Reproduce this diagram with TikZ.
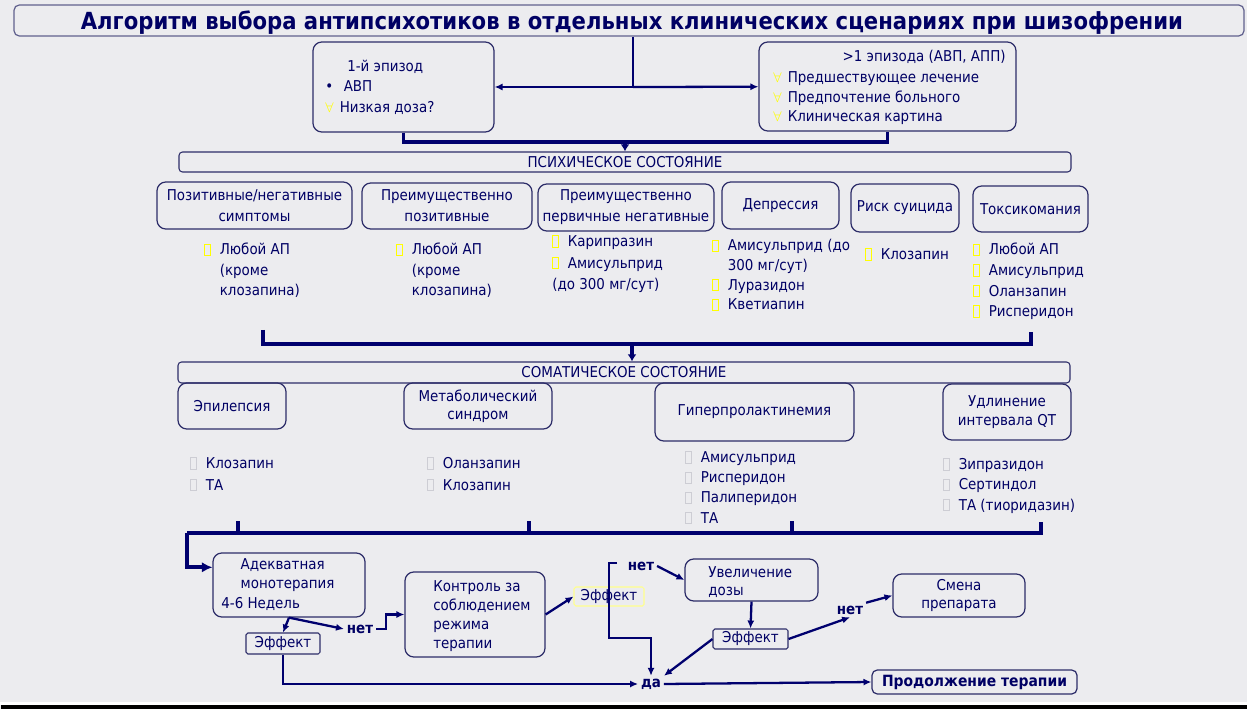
\documentclass[tikz,border=0pt]{standalone}
\usepackage{fontspec}
\setmainfont{DejaVu Sans Condensed}
\usetikzlibrary{arrows.meta}

\definecolor{navyText}{RGB}{0,0,100}
\definecolor{navyLine}{RGB}{0,0,110}
\definecolor{boxLine}{RGB}{45,45,105}
\definecolor{bgGray}{RGB}{236,236,239}
\definecolor{markGray}{RGB}{205,205,212}
\definecolor{markYellow}{RGB}{255,255,0}
\definecolor{effYellow}{RGB}{255,255,140}

\newcommand{\bodyFont}{\fontsize{8.5}{12}\selectfont}
\newcommand{\listFont}{\fontsize{8.5}{11.5}\selectfont}
\newcommand{\titleFont}{\fontsize{13.4}{15}\selectfont\bfseries}
% small marker boxes in front of the drug names
\newcommand{\mk}[1]{{\color{#1}\fboxsep=0pt\fboxrule=0.55pt\fbox{\rule{0pt}{5.8pt}\rule{2.4pt}{0pt}}}\hspace{5.3pt}}
\newcommand{\ind}{\hphantom{\mk{black}}}
\newcommand{\ymk}{\makebox[8.2pt][l]{\textcolor{markYellow}{$\forall$}}}

\tikzset{
    sz/.style 2 args={minimum width=#1*0.02cm, minimum height=#2*0.02cm},
    roundBox/.style={draw=boxLine, line width=0.7pt, rounded corners=5pt, inner sep=0pt, text=navyText, align=center, font=\bodyFont},
    barBox/.style={roundBox, rounded corners=2pt, line width=0.6pt},
    titleBox/.style={draw=boxLine!75, line width=0.7pt, rounded corners=3pt, inner sep=0pt},
    titleText/.style={text=navyText, inner sep=0pt, font=\titleFont},
    effBox/.style={draw=boxLine, line width=0.6pt, rounded corners=1pt, inner sep=0pt, text=navyText, font=\bodyFont},
    listText/.style={anchor=north west, inner sep=0pt, align=left, text=navyText, font=\listFont},
    flowLabel/.style={inner sep=1.5pt, text=navyText, font=\bodyFont\bfseries},
    thickLine/.style={draw=navyLine, line width=2.2pt},
    flowArrow/.style={draw=navyLine, line width=1.3pt, -{Latex[length=4.5pt,width=4pt]}},
    bigArrow/.style={thickLine, -{Latex[length=4pt,width=5pt]}}
}

\begin{document}
\begin{tikzpicture}[x=0.02cm, y=-0.02cm]
    % --- Background ---
    \fill[bgGray] (0,0) rectangle (1247,709);
    \fill[white] (0,702) rectangle (1247,705);
    \fill[black] (1,705) rectangle (1247,709);
    \useasboundingbox (0,0) rectangle (1247,709);

    % --- Title ---
    \node[titleBox, sz={1230}{31}] (title) at (629,20.5) {};
    \node[titleText] (titleText) at (632,23) {Алгоритм выбора антипсихотиков в отдельных клинических сценариях при шизофрении};

    % --- Episodes ---
    \node[roundBox, sz={181}{90}] (firstEp) at (403.5,87) {};
    \node[listText] (firstEpText) at (325,60) {\hspace{12.5pt}1-й эпизод\\ \makebox[10.5pt][l]{•}АВП\\ \ymk Низкая доза?};
    \node[roundBox, sz={257}{89}] (laterEp) at (887.5,86.5) {};
    \node[text=navyText, font=\bodyFont, inner sep=0pt, anchor=east] (laterEpHead) at (1006,57) {>1 эпизода (АВП, АПП)};
    \node[listText, font=\fontsize{8.5}{11.3}\selectfont] (laterEpText) at (773,71) {\ymk Предшествующее лечение\\ \ymk Предпочтение больного\\ \ymk Клиническая картина};

    % --- Mental state ---
    \node[barBox, sz={892}{20}] (psyBar) at (625,162) {ПСИХИЧЕСКОЕ СОСТОЯНИЕ};
    \node[roundBox, sz={195}{47}] (psyMixed) at (254.5,205.5) {Позитивные/негативные\\симптомы};
    \node[roundBox, sz={170}{46}] (psyPos) at (447,206) {Преимущественно\\позитивные};
    \node[roundBox, sz={176}{47}] (psyNeg) at (626,207.5) {Преимущественно\\первичные негативные};
    \node[roundBox, sz={117}{47}] (psyDep) at (780.5,205.5) {Депрессия};
    \node[roundBox, sz={108}{48}] (psySui) at (905,208) {Риск суицида};
    \node[roundBox, sz={115}{46}] (psyTox) at (1030.5,209) {Токсикомания};

    \node[listText] (psyMixedList) at (204,243) {\mk{markYellow}Любой АП\\ \ind(кроме\\ \ind клозапина)};
    \node[listText] (psyPosList) at (396,243) {\mk{markYellow}Любой АП\\ \ind(кроме\\ \ind клозапина)};
    \node[listText, font=\fontsize{8.5}{12.3}\selectfont] (psyNegList) at (552,235) {\mk{markYellow}Карипразин\\ \mk{markYellow}Амисульприд\\ (до 300 мг/сут)};
    \node[listText, font=\fontsize{8.5}{11.2}\selectfont] (psyDepList) at (712,239) {\mk{markYellow}Амисульприд (до\\ \ind 300 мг/сут)\\ \mk{markYellow}Луразидон\\ \mk{markYellow}Кветиапин};
    \node[listText] (psySuiList) at (865,248) {\mk{markYellow}Клозапин};
    \node[listText, font=\fontsize{8.5}{11.7}\selectfont] (psyToxList) at (973,243) {\mk{markYellow}Любой АП\\ \mk{markYellow}Амисульприд\\ \mk{markYellow}Оланзапин\\ \mk{markYellow}Рисперидон};

    % --- Somatic state ---
    \node[barBox, sz={892}{21}] (somBar) at (624,372.5) {СОМАТИЧЕСКОЕ СОСТОЯНИЕ};
    \node[roundBox, sz={108}{46}] (somEpi) at (232,406) {Эпилепсия};
    \node[roundBox, sz={148}{46}, font=\fontsize{8.5}{10.3}\selectfont] (somMet) at (478,406) {Метаболический\\синдром};
    \node[roundBox, sz={199}{58}] (somHyp) at (754.5,412) {Гиперпролактинемия};
    \node[roundBox, sz={128}{56}, font=\fontsize{8.5}{10.8}\selectfont] (somQT) at (1007,412) {Удлинение\\интервала QT};

    \node[listText, font=\fontsize{8.5}{12.4}\selectfont] (somEpiList) at (190,457) {\mk{markGray}Клозапин\\ \mk{markGray}ТА};
    \node[listText, font=\fontsize{8.5}{12.4}\selectfont] (somMetList) at (427,457) {\mk{markGray}Оланзапин\\ \mk{markGray}Клозапин};
    \node[listText] (somHypList) at (685,451) {\mk{markGray}Амисульприд\\ \mk{markGray}Рисперидон\\ \mk{markGray}Палиперидон\\ \mk{markGray}ТА};
    \node[listText, font=\fontsize{8.5}{11.6}\selectfont] (somQTList) at (943,458) {\mk{markGray}Зипразидон\\ \mk{markGray}Сертиндол\\ \mk{markGray}ТА (тиоридазин)};

    % --- Therapy flow ---
    \node[roundBox, sz={152}{64}] (mono) at (289,585) {};
    \node[listText, font=\fontsize{8.5}{11.2}\selectfont] (monoText) at (221,558) {\hspace{11pt}Адекватная\\ \hspace{11pt}монотерапия\\ 4-6 Недель};
    \node[effBox, sz={74}{21}] (effA) at (283,643.5) {Эффект};
    \node[flowLabel] (noA) at (360,629) {нет};
    \node[roundBox, sz={140}{85}] (ctrl) at (475,614.5) {};
    \node[listText, font=\fontsize{8.5}{10.8}\selectfont] (ctrlText) at (433,580) {Контроль за\\ соблюдением\\ режима\\ терапии};
    \node[effBox, draw=effYellow, sz={70}{19}] (effB) at (609,596.5) {Эффект};
    \node[flowLabel] (noB) at (641,566) {нет};
    \node[roundBox, sz={133}{42}] (dose) at (751.5,580) {};
    \node[listText, font=\fontsize{8.5}{10.2}\selectfont] (doseText) at (708,566) {Увеличение\\ дозы};
    \node[effBox, sz={75}{20}] (effC) at (750.5,639) {Эффект};
    \node[flowLabel] (noC) at (850,610) {нет};
    \node[roundBox, sz={132}{43}, font=\fontsize{8.5}{10.8}\selectfont] (change) at (959,595.5) {Смена\\препарата};
    \node[flowLabel] (yes) at (651,684) {да};
    \node[roundBox, sz={205}{24}, rounded corners=3pt, font=\fontsize{8.8}{10}\selectfont\bfseries] (cont) at (974.5,682) {Продолжение терапии};

    % --- Connectors: episodes ---
    \coordinate (topJ) at (633,87);
    \draw[draw=navyLine, line width=1.3pt] (title.south -| topJ) -- (topJ);
    \draw[flowArrow] (topJ) -- (firstEp);
    \draw[flowArrow] (topJ) -- (laterEp);
    \coordinate (psyJ) at (625,142);
    \draw[thickLine] (firstEp.south) |- (psyJ) -| (laterEp.south);
    \draw[bigArrow] (psyJ) -- (psyBar.north);

    % --- Connectors: mental to somatic ---
    \coordinate (psyBrL) at (263,330);
    \coordinate (psyBrR) at (1031,332);
    \coordinate (somJ) at (632,344);
    \draw[thickLine] (psyBrL) |- (somJ) -| (psyBrR);
    \draw[bigArrow] (somJ) -- (somJ |- somBar.north);

    % --- Connectors: somatic to therapy ---
    \coordinate (somBase) at (187,533);
    \coordinate (somTickD) at (1041,522);
    \draw[thickLine] (somTickD) |- (somBase);
    \foreach \tx in {238,529,792}
        \draw[thickLine] (\tx,521) -- (\tx,533);
    \draw[thickLine, -{Latex[length=6pt,width=6pt]}] (somBase) |- (mono.167);

    % --- Connectors: therapy flow ---
    \draw[flowArrow] (mono.south) -- (effA.north);
    \draw[flowArrow] (mono.south) -- (noA.west);
    \draw[flowArrow] (noA.east) -- ++(10,0) |- (ctrl.west);
    \draw[flowArrow] (ctrl.east) -- (effB.west);
    \coordinate (effBTick) at (617,563);
    \draw[flowArrow] (effBTick) -- ++(-8,0) -- ++(0,75) -| (yes.north);
    \draw[flowArrow] (noB.east) -- (dose.west);
    \draw[flowArrow] (dose.south) -- (effC.north);
    \draw[flowArrow] (effC.west) -- (yes.north east);
    \draw[flowArrow] (effC.east) -- (noC.south);
    \draw[flowArrow] (noC.north east) -- (change.west);
    \draw[flowArrow] (effA.south) |- (yes.west);
    \draw[flowArrow] (yes.east) -- (cont.west);
\end{tikzpicture}
\end{document}
